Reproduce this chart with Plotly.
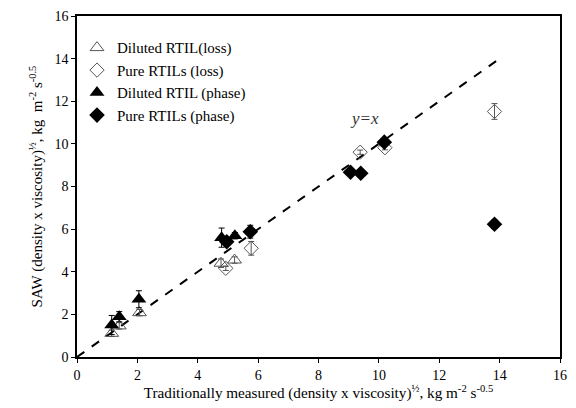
import plotly.graph_objects as go

# Diluted RTIL (loss) - open triangles
dl_x = [1.15, 1.40, 2.07, 4.77, 5.22]
dl_y = [1.11, 1.46, 2.08, 4.40, 4.55]
dl_e = [0.15, 0.15, 0.15, 0.20, 0.15]

# Pure RTILs (loss) - open diamonds
pl_x = [4.93, 5.77, 9.38, 10.20, 13.83]
pl_y = [4.16, 5.10, 9.61, 9.82, 11.52]
pl_e = [0.10, 0.32, 0.10, 0.10, 0.37]

# Diluted RTIL (phase) - filled triangles
dp_x = [1.15, 1.40, 2.05, 4.79, 5.23]
dp_y = [1.50, 1.89, 2.71, 5.60, 5.69]
dp_e = [0.45, 0.24, 0.40, 0.45, 0.15]

# Pure RTILs (phase) - filled diamonds
pp_x = [4.96, 5.74, 9.06, 9.40, 10.18, 13.83]
pp_y = [5.41, 5.88, 8.67, 8.62, 10.08, 6.23]
pp_e = [0.15, 0.30, 0.10, 0.10, 0.10, 0.20]

line_x = [0, 14]
line_y = [0, 14]

ticks = [0, 2, 4, 6, 8, 10, 12, 14, 16]

FONT = "Liberation Serif, Times New Roman, serif"

fig = go.Figure()

fig.add_trace(go.Scatter(x=line_x, y=line_y, mode="lines",
                         line=dict(color="black", width=2, dash="dash"),
                         showlegend=False, hoverinfo="skip"))

def err(vals, color):
    return dict(type="data", array=vals, visible=True, color=color, thickness=1, width=3)

fig.add_trace(go.Scatter(x=dl_x, y=dl_y, mode="markers", name="Diluted RTIL(loss)",
                         marker=dict(symbol="triangle-up-open", size=12, color="#555555",
                                     line=dict(width=1, color="#555555")),
                         error_y=err(dl_e, "#555555"), legendgroup="a"))
fig.add_trace(go.Scatter(x=pl_x, y=pl_y, mode="markers", name="Pure RTILs (loss)",
                         marker=dict(symbol="diamond-open", size=11, color="#555555",
                                     line=dict(width=1, color="#555555")),
                         error_y=err(pl_e, "#555555"), legendgroup="b"))
fig.add_trace(go.Scatter(x=dp_x, y=dp_y, mode="markers", name="Diluted RTIL (phase)",
                         marker=dict(symbol="triangle-up", size=13, color="black"),
                         error_y=err(dp_e, "black"), legendgroup="c"))
fig.add_trace(go.Scatter(x=pp_x, y=pp_y, mode="markers", name="Pure RTILs (phase)",
                         marker=dict(symbol="diamond", size=12, color="black"),
                         error_y=err(pp_e, "black"), legendgroup="d"))

axis_common = dict(range=[0, 16], tickvals=ticks, ticks="outside", ticklen=4,
                   tickcolor="black", showline=True, linecolor="black", linewidth=1.5,
                   mirror=True, showgrid=False, zeroline=False,
                   tickfont=dict(family=FONT, size=14, color="black"))

fig.update_layout(
    width=576, height=408,
    margin=dict(l=77, r=9, t=16, b=51),
    paper_bgcolor="white", plot_bgcolor="white",
    font=dict(family=FONT, size=14, color="black"),
    xaxis=dict(**axis_common,
               title=dict(text="Traditionally measured (density x viscosity)<sup>½</sup>, kg m<sup>-2</sup> s<sup>-0.5</sup>",
                          font=dict(family=FONT, size=15.2, color="black"), standoff=6)),
    yaxis=dict(**axis_common,
               title=dict(text="SAW (density x viscosity)<sup>½</sup>, kg  m<sup>-2</sup> s<sup>-0.5</sup>",
                          font=dict(family=FONT, size=15, color="black"), standoff=8)),
    legend=dict(x=0.0, y=0.955, xanchor="left", yanchor="top",
                bgcolor="rgba(0,0,0,0)", font=dict(family=FONT, size=15, color="black"),
                tracegroupgap=0, itemwidth=30),
    annotations=[dict(x=9.52, y=11.2, xref="x", yref="y", text="<i>y=x</i>", showarrow=False,
                      font=dict(family=FONT, size=17, color="#333333"))],
)

fig.write_html("out.html", config={"displayModeBar": False},
               post_script="document.body.style.margin='0';document.body.style.padding='0';")
